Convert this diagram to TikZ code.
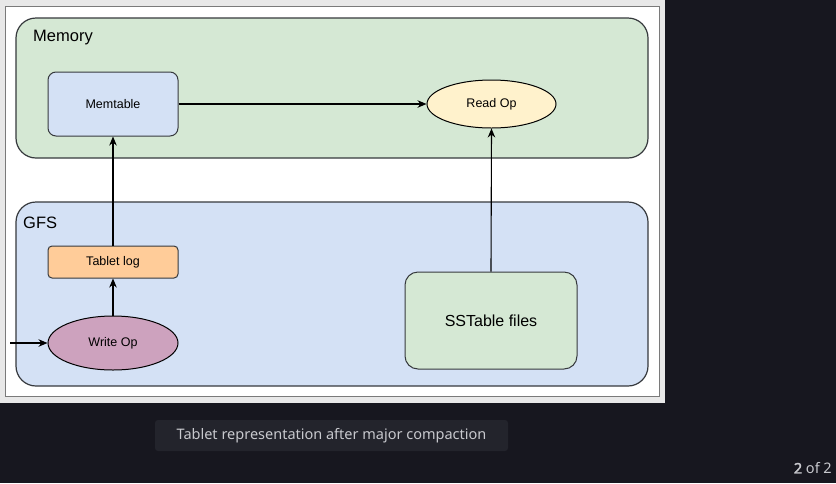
\documentclass[tikz,border=0pt]{standalone}
\usepackage{fontspec}
\setmainfont{Liberation Sans}
\newfontfamily\capfont{Noto Sans}
\newfontfamily\capboldfont[FakeBold=2.5]{Noto Sans}
\usetikzlibrary{shapes.geometric,arrows.meta}
\definecolor{bgdark}{HTML}{17171F}
\definecolor{capbg}{HTML}{23242C}
\definecolor{captxt}{HTML}{C8C9CE}
\definecolor{panelgray}{HTML}{E8E8E8}
\definecolor{panelborder}{HTML}{7A7A7A}
\definecolor{greenfill}{HTML}{D5E8D4}
\definecolor{bluefill}{HTML}{D4E1F5}
\definecolor{yellowfill}{HTML}{FFF2CC}
\definecolor{orangefill}{HTML}{FFCC99}
\definecolor{purplefill}{HTML}{CDA2BE}
\definecolor{strokedark}{HTML}{36393D}
\begin{document}
\begin{tikzpicture}[x=1pt,y=-1pt,
  container/.style={draw=strokedark,line width=1.2pt,rounded corners=20pt},
  boxnode/.style={draw=strokedark,line width=1pt,inner sep=0pt,font=\fontsize{12.5}{14}\selectfont},
  ellnode/.style={ellipse,draw=black,line width=1pt,inner sep=0pt,font=\fontsize{12.5}{14}\selectfont},
  conn/.style={-{Stealth[length=9pt,width=7.5pt]},line width=1.1pt,black},
  grouplabel/.style={anchor=west,inner sep=0pt,font=\fontsize{16.5}{18}\selectfont}]
\useasboundingbox (0,0) rectangle (836,483);
\fill[bgdark] (0,0) rectangle (836,483);
\fill[panelgray] (0,0) rectangle (665,403);
\filldraw[fill=white,draw=panelborder,line width=1pt] (5.5,6) rectangle (659,396.5);
% containers
\filldraw[container,fill=greenfill] (16,18) rectangle (648,158);
\node[grouplabel] (memlbl) at (33,38) {Memory};
\filldraw[container,fill=bluefill] (16,202) rectangle (648,386);
\node[grouplabel] (gfslbl) at (23,223) {GFS};
% nodes
\node[boxnode,fill=bluefill,rounded corners=8pt,minimum width=130pt,minimum height=64pt] (memtable) at (113,104) {Memtable};
\node[ellnode,fill=yellowfill,minimum width=129pt,minimum height=48pt] (readop) at (491.5,104) {Read Op};
\node[boxnode,fill=orangefill,rounded corners=4pt,minimum width=130pt,minimum height=32pt] (tabletlog) at (113,262) {Tablet log};
\node[ellnode,fill=purplefill,minimum width=130pt,minimum height=54pt] (writeop) at (113,343) {Write Op};
\node[boxnode,fill=greenfill,rounded corners=13pt,minimum width=172pt,minimum height=97pt,font=\fontsize{16}{18}\selectfont] (sstable) at (491,320.5) {SSTable files};
\coordinate (wstart) at (10,343);
% connectors
\draw[conn] (memtable.east) -- (readop.west);
\draw[conn] (tabletlog.north) -- (memtable.south);
\draw[conn] (writeop.north) -- (tabletlog.south);
\draw[conn] (wstart) -- (writeop.west);
\draw[conn] (sstable.north) -- (readop.south);
% caption
\node[fill=capbg,rounded corners=3pt,minimum width=353pt,minimum height=31pt,inner sep=0pt,text=captxt,font=\capfont\fontsize{14.5}{16}\selectfont] (caption) at (331.5,435.5) {Tablet representation after major compaction};
\node[anchor=east,inner sep=0pt,text=captxt,font=\capfont\fontsize{14.5}{16}\selectfont] (pager) at (832,468) {{\capboldfont 2} of 2};
\end{tikzpicture}
\end{document}
